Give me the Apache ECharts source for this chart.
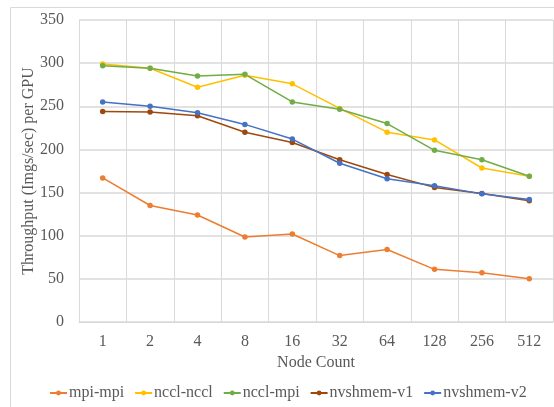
<!DOCTYPE html>
<html>
<head>
<meta charset="utf-8">
<script src="https://cdn.jsdelivr.net/npm/echarts@6/dist/echarts.min.js"></script>
<style>
  html, body { margin: 0; padding: 0; background: #fff; }
  #chart { width: 554px; height: 407px; }
</style>
</head>
<body>
<div id="chart"></div>
<script>
  // node counts on the x axis
  const nodeCounts = ['1', '2', '4', '8', '16', '32', '64', '128', '256', '512'];

  // throughput (imgs/sec) per GPU
  const mpiMpi     = [167, 135, 124, 98.5, 102, 77, 84, 61, 57, 50];
  const ncclNccl   = [299, 294, 272, 286, 276, 247.5, 220, 211, 178.5, 169];
  const ncclMpi    = [297, 294, 285, 287, 255, 246.5, 230, 199, 188, 169];
  const nvshmemV1  = [244, 243.5, 239, 220, 208, 188, 171, 156, 149, 140.5];
  const nvshmemV2  = [255, 250, 242.5, 229, 212, 184, 166, 158, 148.5, 142];

  const seriesNames = ['mpi-mpi', 'nccl-nccl', 'nccl-mpi', 'nvshmem-v1', 'nvshmem-v2'];
  const seriesData = [mpiMpi, ncclNccl, ncclMpi, nvshmemV1, nvshmemV2];
  const colors = ['#ED7D31', '#FFC000', '#70AD47', '#9E480E', '#4472C4'];

  const FONT = '"Liberation Serif", "Times New Roman", serif';
  const TXT = '#595959';

  const chart = echarts.init(document.getElementById('chart'));

  const option = {
    animation: false,
    color: colors,
    textStyle: { fontFamily: FONT, color: TXT },
    graphic: [{
      type: 'rect',
      shape: { x: 10.5, y: 7.5, width: 600, height: 500 },
      style: { fill: 'none', stroke: '#d9d9d9', lineWidth: 1 },
      z: -10
    }],
    grid: { left: 79, right: 1, top: 20, bottom: 85 },
    legend: {
      bottom: 1,
      left: 44,
      itemWidth: 17,
      itemHeight: 6,
      itemGap: 10,
      textStyle: { fontFamily: FONT, fontSize: 16, color: TXT, padding: [0, 0, 0, -3] },
      data: seriesNames
    },
    xAxis: {
      type: 'category',
      data: nodeCounts,
      name: 'Node Count',
      nameLocation: 'middle',
      nameGap: 29,
      nameTextStyle: { fontFamily: FONT, fontSize: 16, color: TXT },
      axisLine: { lineStyle: { color: '#d9d9d9', width: 1 } },
      axisTick: { show: false },
      axisLabel: { fontFamily: FONT, fontSize: 16, color: TXT, margin: 12 },
      splitLine: { show: true, lineStyle: { color: '#d9d9d9', width: 1 } }
    },
    yAxis: {
      type: 'value',
      min: 0,
      max: 350,
      interval: 50,
      name: 'Throughput (Imgs/sec) per GPU',
      nameLocation: 'middle',
      nameGap: 42,
      nameMoveOverlap: false,
      nameTextStyle: { fontFamily: FONT, fontSize: 16, color: TXT },
      axisLine: { show: false },
      axisTick: { show: false },
      axisLabel: { fontFamily: FONT, fontSize: 16, color: TXT, margin: 15 },
      splitLine: { lineStyle: { color: '#d9d9d9', width: 1.5 } }
    },
    series: seriesNames.map((name, i) => ({
      name: name,
      type: 'line',
      data: seriesData[i],
      symbol: 'circle',
      symbolSize: 5.5,
      lineStyle: { width: 1.5 },
      itemStyle: { color: colors[i] }
    }))
  };

  chart.setOption(option);
</script>
</body>
</html>
